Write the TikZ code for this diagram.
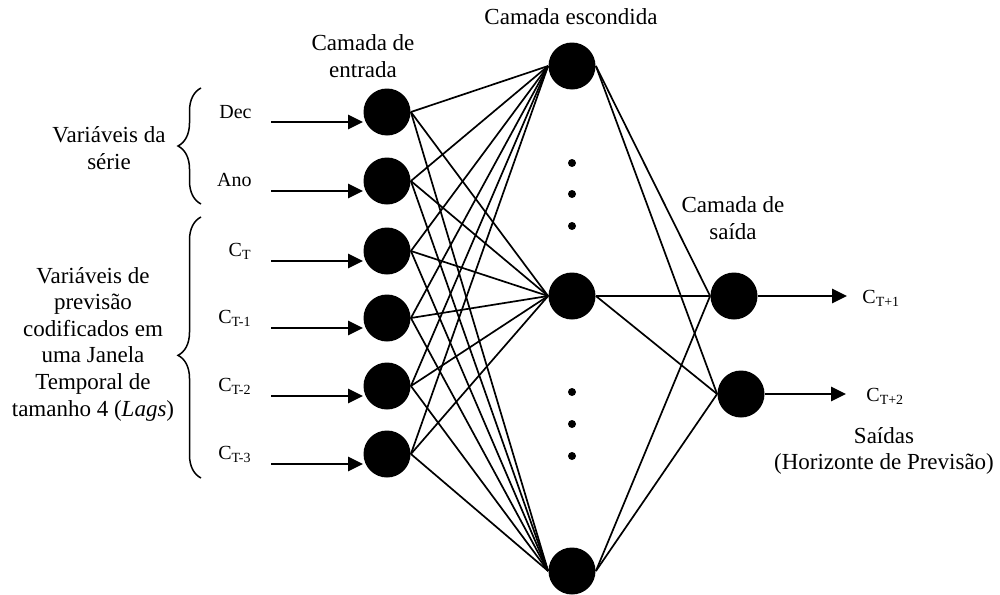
\documentclass[tikz,border=0pt]{standalone}
\usepackage{fontspec}
\setmainfont{Liberation Serif}
\usetikzlibrary{arrows.meta,decorations.pathreplacing}
\begin{document}
\begin{tikzpicture}[x=0.5pt,y=-0.5pt,
  neuron/.style={circle,fill=black,inner sep=0pt,minimum size=23.5pt},
  link/.style={line width=0.85pt},
  feed/.style={line width=1.4pt,-{Triangle[length=7.5pt,width=7pt]}},
  caption/.style={align=center,inner sep=0pt,font=\fontsize{11.5}{13.3}\selectfont},
  varlabel/.style={inner sep=0pt,font=\fontsize{10}{12}\selectfont},
  curly/.style={decorate,decoration={brace,mirror,amplitude=11.5pt},line width=0.75pt},
  vdot/.style={circle,fill=black,inner sep=0pt,minimum size=4pt}]
\useasboundingbox (0,0) rectangle (1000,594);

% layer captions
\node[caption] (capin)  at (363,56)  {Camada de\\entrada};
\node[caption] (caphid) at (571,17)  {Camada escondida};
\node[caption] (capout) at (733,218) {Camada de\\saída};
\node[caption] (capres) at (884,451) {Saídas\\(Horizonte de Previsão)};

% input layer
\node[neuron] (in1) at (387,112) {};
\node[neuron] (in2) at (387,181) {};
\node[neuron] (in3) at (387,251) {};
\node[neuron] (in4) at (387,318) {};
\node[neuron] (in5) at (387,386) {};
\node[neuron] (in6) at (387,454) {};

% hidden layer
\node[neuron] (h1) at (572,66)  {};
\node[neuron] (h2) at (572,296) {};
\node[neuron] (h3) at (572,571) {};

% ellipsis dots between hidden neurons
\foreach \k/\y in {1/163,2/194,3/226,4/392,5/424,6/456}
  \node[vdot] (d\k) at (572,\y) {};

% output layer
\node[neuron] (o1) at (734,296) {};
\node[neuron] (o2) at (741,394) {};

% input variable labels
\node[varlabel,anchor=east] (l1) at (252,112) {Dec};
\node[varlabel,anchor=east] (l2) at (252,180) {Ano};
\node[varlabel,anchor=east] (l3) at (252,251) {C\textsubscript{T}};
\node[varlabel,anchor=east] (l4) at (252,318) {C\textsubscript{T-1}};
\node[varlabel,anchor=east] (l5) at (252,386) {C\textsubscript{T-2}};
\node[varlabel,anchor=east] (l6) at (252,454) {C\textsubscript{T-3}};

% input arrows
\foreach \i/\y in {1/122,2/191,3/261,4/328,5/396,6/464}{
  \coordinate (s\i) at (271,\y);
  \draw[feed] (s\i) -- (s\i -| in\i.west);
}

% full connections input -> hidden
\foreach \i in {1,...,6}
  \foreach \h in {1,2,3}
    \draw[link] (in\i.east) -- (h\h.west);

% full connections hidden -> output
\foreach \h in {1,2,3}
  \foreach \o in {1,2}
    \draw[link] (h\h.east) -- (o\o.west);

% output arrows and labels
\coordinate (e1) at (847,296);
\coordinate (e2) at (846,394);
\draw[feed] (o1.east) -- (e1);
\draw[feed] (o2.east) -- (e2);
\node[varlabel,anchor=west] (r1) at (862,298) {C\textsubscript{T+1}};
\node[varlabel,anchor=west] (r2) at (866,396) {C\textsubscript{T+2}};

% grouping braces and their descriptions
\draw[curly] (201,88) -- (201,204);
\draw[curly,decoration={aspect=0.53}] (201,217) -- (201,478);
\node[caption] (g1) at (109,148) {Variáveis da\\série};
\node[caption] (g2) at (93,344) {Variáveis de\\previsão\\codificados em\\uma Janela\\Temporal de\\tamanho 4 (\textit{Lags})};
\end{tikzpicture}
\end{document}
